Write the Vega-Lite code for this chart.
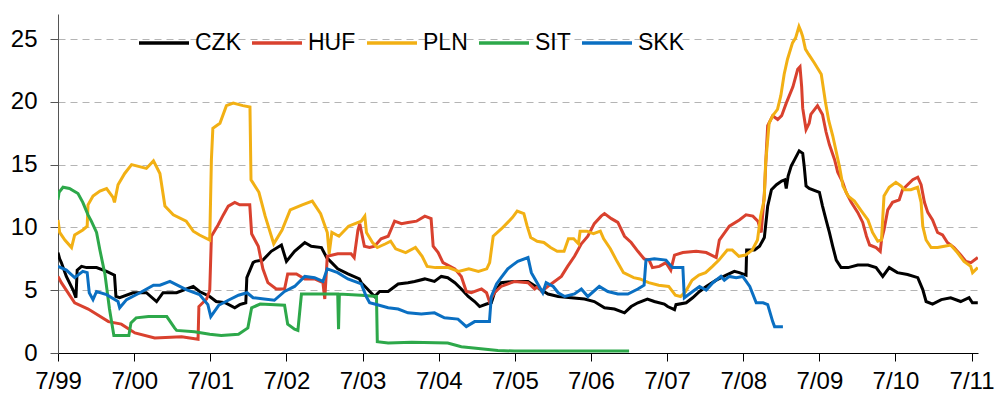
{
"$schema": "https://vega.github.io/schema/vega-lite/v6.json",
"width": 920, "height": 339,
"autosize": {"type": "none"},
"padding": {"left": 58, "top": 14, "right": 21, "bottom": 48},
"background": "white",
"config": {"view": {"stroke": null}, "font": "Liberation Sans"},
"data": {"values": [
{"c":"CZK","d":"1999-07-01","v":8.0},{"c":"CZK","d":"1999-07-09","v":7.5},{"c":"CZK","d":"1999-07-17","v":7.2},{"c":"CZK","d":"1999-08-10","v":6.1},{"c":"CZK","d":"1999-09-12","v":5.0},{"c":"CZK","d":"1999-09-25","v":4.4},{"c":"CZK","d":"1999-10-01","v":6.6},{"c":"CZK","d":"1999-10-22","v":6.9},{"c":"CZK","d":"1999-11-15","v":6.8},{"c":"CZK","d":"2000-01-02","v":6.8},{"c":"CZK","d":"2000-02-19","v":6.5},{"c":"CZK","d":"2000-03-28","v":6.2},{"c":"CZK","d":"2000-04-04","v":4.5},{"c":"CZK","d":"2000-04-22","v":4.4},{"c":"CZK","d":"2000-06-25","v":4.8},{"c":"CZK","d":"2000-08-28","v":4.8},{"c":"CZK","d":"2000-10-16","v":4.1},{"c":"CZK","d":"2000-11-16","v":4.8},{"c":"CZK","d":"2001-01-20","v":4.8},{"c":"CZK","d":"2001-04-10","v":5.3},{"c":"CZK","d":"2001-05-10","v":4.9},{"c":"CZK","d":"2001-06-28","v":4.5},{"c":"CZK","d":"2001-07-29","v":4.1},{"c":"CZK","d":"2001-09-10","v":4.0},{"c":"CZK","d":"2001-10-26","v":3.6},{"c":"CZK","d":"2001-11-19","v":3.85},{"c":"CZK","d":"2001-12-18","v":4.0},{"c":"CZK","d":"2001-12-23","v":6.0},{"c":"CZK","d":"2002-01-22","v":7.2},{"c":"CZK","d":"2002-02-01","v":7.3},{"c":"CZK","d":"2002-03-10","v":7.4},{"c":"CZK","d":"2002-04-19","v":8.1},{"c":"CZK","d":"2002-06-07","v":8.6},{"c":"CZK","d":"2002-07-01","v":7.3},{"c":"CZK","d":"2002-08-09","v":8.1},{"c":"CZK","d":"2002-09-27","v":8.8},{"c":"CZK","d":"2002-10-28","v":8.5},{"c":"CZK","d":"2002-12-16","v":8.4},{"c":"CZK","d":"2003-01-10","v":7.6},{"c":"CZK","d":"2003-02-03","v":7.2},{"c":"CZK","d":"2003-03-04","v":6.7},{"c":"CZK","d":"2003-04-22","v":6.3},{"c":"CZK","d":"2003-06-16","v":5.9},{"c":"CZK","d":"2003-06-25","v":5.6},{"c":"CZK","d":"2003-07-19","v":5.2},{"c":"CZK","d":"2003-08-28","v":4.5},{"c":"CZK","d":"2003-09-21","v":4.9},{"c":"CZK","d":"2003-11-01","v":4.9},{"c":"CZK","d":"2003-12-19","v":5.5},{"c":"CZK","d":"2004-02-04","v":5.6},{"c":"CZK","d":"2004-03-07","v":5.7},{"c":"CZK","d":"2004-04-25","v":5.9},{"c":"CZK","d":"2004-06-10","v":5.7},{"c":"CZK","d":"2004-07-13","v":6.1},{"c":"CZK","d":"2004-08-13","v":6.0},{"c":"CZK","d":"2004-09-16","v":5.6},{"c":"CZK","d":"2004-10-17","v":5.1},{"c":"CZK","d":"2004-11-19","v":4.5},{"c":"CZK","d":"2004-12-20","v":4.1},{"c":"CZK","d":"2005-01-13","v":3.7},{"c":"CZK","d":"2005-02-15","v":3.9},{"c":"CZK","d":"2005-03-10","v":4.0},{"c":"CZK","d":"2005-03-25","v":4.8},{"c":"CZK","d":"2005-04-26","v":5.6},{"c":"CZK","d":"2005-06-29","v":5.7},{"c":"CZK","d":"2005-09-02","v":5.7},{"c":"CZK","d":"2005-10-19","v":5.2},{"c":"CZK","d":"2005-12-07","v":4.7},{"c":"CZK","d":"2006-01-25","v":4.5},{"c":"CZK","d":"2006-03-28","v":4.4},{"c":"CZK","d":"2006-05-31","v":4.3},{"c":"CZK","d":"2006-07-17","v":4.1},{"c":"CZK","d":"2006-09-04","v":3.6},{"c":"CZK","d":"2006-10-22","v":3.5},{"c":"CZK","d":"2006-12-09","v":3.2},{"c":"CZK","d":"2007-01-10","v":3.7},{"c":"CZK","d":"2007-02-11","v":4.0},{"c":"CZK","d":"2007-03-29","v":4.3},{"c":"CZK","d":"2007-05-01","v":4.1},{"c":"CZK","d":"2007-06-18","v":3.9},{"c":"CZK","d":"2007-07-04","v":3.7},{"c":"CZK","d":"2007-08-06","v":3.45},{"c":"CZK","d":"2007-08-13","v":3.85},{"c":"CZK","d":"2007-10-01","v":4.0},{"c":"CZK","d":"2007-11-01","v":4.4},{"c":"CZK","d":"2007-12-04","v":4.9},{"c":"CZK","d":"2008-01-05","v":5.3},{"c":"CZK","d":"2008-02-22","v":5.8},{"c":"CZK","d":"2008-04-10","v":6.2},{"c":"CZK","d":"2008-05-19","v":6.5},{"c":"CZK","d":"2008-06-12","v":6.4},{"c":"CZK","d":"2008-07-14","v":6.2},{"c":"CZK","d":"2008-07-17","v":8.2},{"c":"CZK","d":"2008-08-24","v":8.2},{"c":"CZK","d":"2008-09-17","v":8.5},{"c":"CZK","d":"2008-10-10","v":9.2},{"c":"CZK","d":"2008-10-26","v":11.7},{"c":"CZK","d":"2008-11-13","v":13.0},{"c":"CZK","d":"2008-12-07","v":13.4},{"c":"CZK","d":"2009-01-01","v":13.7},{"c":"CZK","d":"2009-01-16","v":13.8},{"c":"CZK","d":"2009-01-23","v":13.1},{"c":"CZK","d":"2009-02-01","v":14.1},{"c":"CZK","d":"2009-02-16","v":14.9},{"c":"CZK","d":"2009-03-04","v":15.4},{"c":"CZK","d":"2009-03-26","v":16.1},{"c":"CZK","d":"2009-04-12","v":15.9},{"c":"CZK","d":"2009-04-19","v":14.9},{"c":"CZK","d":"2009-04-28","v":13.3},{"c":"CZK","d":"2009-05-13","v":13.1},{"c":"CZK","d":"2009-07-01","v":12.8},{"c":"CZK","d":"2009-07-16","v":11.7},{"c":"CZK","d":"2009-08-02","v":10.6},{"c":"CZK","d":"2009-08-18","v":9.6},{"c":"CZK","d":"2009-09-03","v":8.5},{"c":"CZK","d":"2009-09-20","v":7.4},{"c":"CZK","d":"2009-10-13","v":6.8},{"c":"CZK","d":"2009-11-16","v":6.8},{"c":"CZK","d":"2010-01-01","v":7.0},{"c":"CZK","d":"2010-02-19","v":7.0},{"c":"CZK","d":"2010-03-30","v":6.8},{"c":"CZK","d":"2010-05-01","v":6.1},{"c":"CZK","d":"2010-06-01","v":6.8},{"c":"CZK","d":"2010-07-10","v":6.4},{"c":"CZK","d":"2010-08-28","v":6.25},{"c":"CZK","d":"2010-10-16","v":6.0},{"c":"CZK","d":"2010-11-09","v":5.05},{"c":"CZK","d":"2010-11-25","v":4.1},{"c":"CZK","d":"2010-12-26","v":3.9},{"c":"CZK","d":"2011-02-06","v":4.25},{"c":"CZK","d":"2011-03-23","v":4.4},{"c":"CZK","d":"2011-05-10","v":4.1},{"c":"CZK","d":"2011-06-19","v":4.4},{"c":"CZK","d":"2011-07-05","v":4.0},{"c":"CZK","d":"2011-07-31","v":4.0},
{"c":"HUF","d":"1999-07-01","v":6.1},{"c":"HUF","d":"1999-07-17","v":5.6},{"c":"HUF","d":"1999-09-19","v":4.0},{"c":"HUF","d":"1999-11-23","v":3.5},{"c":"HUF","d":"2000-02-28","v":2.5},{"c":"HUF","d":"2000-04-30","v":2.3},{"c":"HUF","d":"2000-07-04","v":1.6},{"c":"HUF","d":"2000-10-07","v":1.2},{"c":"HUF","d":"2001-02-13","v":1.3},{"c":"HUF","d":"2001-05-03","v":1.1},{"c":"HUF","d":"2001-05-07","v":3.7},{"c":"HUF","d":"2001-06-13","v":4.3},{"c":"HUF","d":"2001-06-28","v":5.0},{"c":"HUF","d":"2001-07-06","v":9.3},{"c":"HUF","d":"2001-08-07","v":10.2},{"c":"HUF","d":"2001-09-01","v":11.0},{"c":"HUF","d":"2001-09-25","v":11.7},{"c":"HUF","d":"2001-10-26","v":12.0},{"c":"HUF","d":"2001-11-19","v":11.8},{"c":"HUF","d":"2002-01-06","v":11.8},{"c":"HUF","d":"2002-01-15","v":9.5},{"c":"HUF","d":"2002-02-16","v":8.5},{"c":"HUF","d":"2002-03-10","v":6.7},{"c":"HUF","d":"2002-04-03","v":5.6},{"c":"HUF","d":"2002-05-13","v":5.1},{"c":"HUF","d":"2002-06-22","v":5.1},{"c":"HUF","d":"2002-07-07","v":6.3},{"c":"HUF","d":"2002-08-18","v":6.3},{"c":"HUF","d":"2002-09-27","v":5.9},{"c":"HUF","d":"2002-11-13","v":5.9},{"c":"HUF","d":"2002-12-23","v":5.6},{"c":"HUF","d":"2003-01-01","v":4.3},{"c":"HUF","d":"2003-01-13","v":7.7},{"c":"HUF","d":"2003-03-04","v":7.9},{"c":"HUF","d":"2003-05-07","v":7.9},{"c":"HUF","d":"2003-05-22","v":7.6},{"c":"HUF","d":"2003-06-09","v":9.8},{"c":"HUF","d":"2003-06-18","v":10.3},{"c":"HUF","d":"2003-07-10","v":8.5},{"c":"HUF","d":"2003-08-04","v":8.4},{"c":"HUF","d":"2003-08-28","v":8.5},{"c":"HUF","d":"2003-09-28","v":9.1},{"c":"HUF","d":"2003-11-01","v":9.3},{"c":"HUF","d":"2003-12-02","v":10.5},{"c":"HUF","d":"2004-01-04","v":10.3},{"c":"HUF","d":"2004-02-04","v":10.4},{"c":"HUF","d":"2004-03-16","v":10.5},{"c":"HUF","d":"2004-04-25","v":10.9},{"c":"HUF","d":"2004-05-25","v":10.7},{"c":"HUF","d":"2004-06-04","v":8.5},{"c":"HUF","d":"2004-06-28","v":8.0},{"c":"HUF","d":"2004-07-21","v":7.2},{"c":"HUF","d":"2004-09-16","v":6.7},{"c":"HUF","d":"2004-10-17","v":6.1},{"c":"HUF","d":"2004-11-10","v":4.9},{"c":"HUF","d":"2004-12-04","v":4.8},{"c":"HUF","d":"2005-01-22","v":5.1},{"c":"HUF","d":"2005-02-15","v":4.8},{"c":"HUF","d":"2005-03-01","v":4.1},{"c":"HUF","d":"2005-03-25","v":4.8},{"c":"HUF","d":"2005-04-26","v":5.3},{"c":"HUF","d":"2005-06-29","v":5.7},{"c":"HUF","d":"2005-09-02","v":5.6},{"c":"HUF","d":"2005-10-04","v":5.1},{"c":"HUF","d":"2005-10-19","v":5.3},{"c":"HUF","d":"2005-11-06","v":4.9},{"c":"HUF","d":"2005-12-22","v":5.5},{"c":"HUF","d":"2006-02-09","v":6.1},{"c":"HUF","d":"2006-03-11","v":6.9},{"c":"HUF","d":"2006-04-13","v":7.7},{"c":"HUF","d":"2006-05-16","v":8.7},{"c":"HUF","d":"2006-06-16","v":9.3},{"c":"HUF","d":"2006-07-17","v":10.3},{"c":"HUF","d":"2006-08-19","v":10.9},{"c":"HUF","d":"2006-09-04","v":11.1},{"c":"HUF","d":"2006-10-07","v":10.7},{"c":"HUF","d":"2006-11-07","v":10.4},{"c":"HUF","d":"2006-12-09","v":9.3},{"c":"HUF","d":"2007-01-10","v":8.8},{"c":"HUF","d":"2007-02-11","v":8.1},{"c":"HUF","d":"2007-03-13","v":7.5},{"c":"HUF","d":"2007-04-06","v":7.4},{"c":"HUF","d":"2007-04-22","v":6.8},{"c":"HUF","d":"2007-05-25","v":6.9},{"c":"HUF","d":"2007-06-26","v":7.2},{"c":"HUF","d":"2007-07-19","v":6.6},{"c":"HUF","d":"2007-08-06","v":7.8},{"c":"HUF","d":"2007-09-15","v":8.0},{"c":"HUF","d":"2007-11-18","v":8.1},{"c":"HUF","d":"2008-01-05","v":8.0},{"c":"HUF","d":"2008-02-22","v":7.6},{"c":"HUF","d":"2008-03-08","v":9.0},{"c":"HUF","d":"2008-04-25","v":10.1},{"c":"HUF","d":"2008-06-12","v":10.6},{"c":"HUF","d":"2008-07-14","v":11.0},{"c":"HUF","d":"2008-08-16","v":10.9},{"c":"HUF","d":"2008-09-09","v":10.5},{"c":"HUF","d":"2008-09-25","v":9.6},{"c":"HUF","d":"2008-10-10","v":12.7},{"c":"HUF","d":"2008-10-19","v":15.9},{"c":"HUF","d":"2008-10-26","v":18.1},{"c":"HUF","d":"2008-11-19","v":18.9},{"c":"HUF","d":"2008-12-13","v":18.6},{"c":"HUF","d":"2009-01-01","v":18.9},{"c":"HUF","d":"2009-01-23","v":19.9},{"c":"HUF","d":"2009-02-24","v":21.2},{"c":"HUF","d":"2009-03-19","v":22.6},{"c":"HUF","d":"2009-03-30","v":22.8},{"c":"HUF","d":"2009-04-07","v":21.2},{"c":"HUF","d":"2009-04-12","v":19.5},{"c":"HUF","d":"2009-04-28","v":17.8},{"c":"HUF","d":"2009-05-13","v":18.3},{"c":"HUF","d":"2009-05-21","v":19.0},{"c":"HUF","d":"2009-06-22","v":19.7},{"c":"HUF","d":"2009-07-16","v":19.0},{"c":"HUF","d":"2009-08-02","v":17.6},{"c":"HUF","d":"2009-08-18","v":16.6},{"c":"HUF","d":"2009-09-12","v":15.4},{"c":"HUF","d":"2009-09-27","v":14.4},{"c":"HUF","d":"2009-10-21","v":13.6},{"c":"HUF","d":"2009-11-06","v":12.8},{"c":"HUF","d":"2009-12-01","v":12.0},{"c":"HUF","d":"2010-01-01","v":11.2},{"c":"HUF","d":"2010-01-25","v":10.4},{"c":"HUF","d":"2010-02-12","v":9.3},{"c":"HUF","d":"2010-02-27","v":8.6},{"c":"HUF","d":"2010-03-30","v":8.4},{"c":"HUF","d":"2010-04-19","v":8.1},{"c":"HUF","d":"2010-04-25","v":9.0},{"c":"HUF","d":"2010-05-07","v":9.8},{"c":"HUF","d":"2010-05-25","v":11.4},{"c":"HUF","d":"2010-06-17","v":12.0},{"c":"HUF","d":"2010-07-19","v":12.2},{"c":"HUF","d":"2010-08-04","v":13.0},{"c":"HUF","d":"2010-08-28","v":13.4},{"c":"HUF","d":"2010-09-22","v":13.8},{"c":"HUF","d":"2010-10-16","v":14.0},{"c":"HUF","d":"2010-11-01","v":13.4},{"c":"HUF","d":"2010-11-17","v":12.0},{"c":"HUF","d":"2010-12-03","v":11.2},{"c":"HUF","d":"2010-12-26","v":10.6},{"c":"HUF","d":"2011-01-19","v":9.6},{"c":"HUF","d":"2011-02-12","v":9.4},{"c":"HUF","d":"2011-03-07","v":8.8},{"c":"HUF","d":"2011-04-08","v":8.4},{"c":"HUF","d":"2011-05-10","v":7.8},{"c":"HUF","d":"2011-06-04","v":7.3},{"c":"HUF","d":"2011-06-28","v":7.2},{"c":"HUF","d":"2011-07-31","v":7.6},
{"c":"PLN","d":"1999-07-01","v":10.6},{"c":"PLN","d":"1999-07-09","v":9.6},{"c":"PLN","d":"1999-08-03","v":9.0},{"c":"PLN","d":"1999-09-04","v":8.4},{"c":"PLN","d":"1999-09-19","v":9.4},{"c":"PLN","d":"1999-10-28","v":9.8},{"c":"PLN","d":"1999-11-18","v":10.1},{"c":"PLN","d":"1999-11-22","v":11.8},{"c":"PLN","d":"1999-12-16","v":12.5},{"c":"PLN","d":"2000-01-18","v":12.9},{"c":"PLN","d":"2000-02-19","v":13.1},{"c":"PLN","d":"2000-03-21","v":12.4},{"c":"PLN","d":"2000-03-28","v":12.0},{"c":"PLN","d":"2000-04-14","v":13.4},{"c":"PLN","d":"2000-05-16","v":14.3},{"c":"PLN","d":"2000-06-18","v":15.0},{"c":"PLN","d":"2000-08-28","v":14.7},{"c":"PLN","d":"2000-10-01","v":15.3},{"c":"PLN","d":"2000-11-01","v":14.3},{"c":"PLN","d":"2000-11-25","v":11.7},{"c":"PLN","d":"2001-01-04","v":11.0},{"c":"PLN","d":"2001-03-07","v":10.5},{"c":"PLN","d":"2001-04-10","v":9.7},{"c":"PLN","d":"2001-05-10","v":9.4},{"c":"PLN","d":"2001-06-28","v":9.0},{"c":"PLN","d":"2001-07-06","v":15.4},{"c":"PLN","d":"2001-07-13","v":17.9},{"c":"PLN","d":"2001-08-16","v":18.3},{"c":"PLN","d":"2001-09-16","v":19.7},{"c":"PLN","d":"2001-10-19","v":19.9},{"c":"PLN","d":"2001-12-04","v":19.7},{"c":"PLN","d":"2002-01-07","v":19.6},{"c":"PLN","d":"2002-01-12","v":13.8},{"c":"PLN","d":"2002-02-19","v":12.8},{"c":"PLN","d":"2002-03-21","v":10.9},{"c":"PLN","d":"2002-05-01","v":8.7},{"c":"PLN","d":"2002-06-10","v":9.8},{"c":"PLN","d":"2002-07-19","v":11.4},{"c":"PLN","d":"2002-09-15","v":11.8},{"c":"PLN","d":"2002-11-02","v":12.1},{"c":"PLN","d":"2002-12-12","v":11.1},{"c":"PLN","d":"2003-01-13","v":9.6},{"c":"PLN","d":"2003-01-22","v":7.9},{"c":"PLN","d":"2003-02-04","v":9.6},{"c":"PLN","d":"2003-03-10","v":9.3},{"c":"PLN","d":"2003-04-25","v":10.1},{"c":"PLN","d":"2003-06-25","v":10.5},{"c":"PLN","d":"2003-07-12","v":10.9},{"c":"PLN","d":"2003-07-20","v":9.6},{"c":"PLN","d":"2003-08-18","v":8.8},{"c":"PLN","d":"2003-09-10","v":8.4},{"c":"PLN","d":"2003-10-20","v":8.7},{"c":"PLN","d":"2003-11-13","v":8.9},{"c":"PLN","d":"2003-12-07","v":8.3},{"c":"PLN","d":"2004-01-24","v":8.0},{"c":"PLN","d":"2004-03-11","v":8.4},{"c":"PLN","d":"2004-04-12","v":7.7},{"c":"PLN","d":"2004-05-06","v":6.9},{"c":"PLN","d":"2004-06-15","v":6.8},{"c":"PLN","d":"2004-08-16","v":6.8},{"c":"PLN","d":"2004-10-04","v":6.5},{"c":"PLN","d":"2004-11-22","v":6.7},{"c":"PLN","d":"2005-01-07","v":6.5},{"c":"PLN","d":"2005-02-16","v":6.7},{"c":"PLN","d":"2005-03-02","v":7.2},{"c":"PLN","d":"2005-03-19","v":9.3},{"c":"PLN","d":"2005-04-28","v":9.9},{"c":"PLN","d":"2005-05-28","v":10.4},{"c":"PLN","d":"2005-06-20","v":10.8},{"c":"PLN","d":"2005-07-12","v":11.3},{"c":"PLN","d":"2005-08-13","v":11.1},{"c":"PLN","d":"2005-08-29","v":10.1},{"c":"PLN","d":"2005-09-15","v":9.2},{"c":"PLN","d":"2005-10-16","v":8.9},{"c":"PLN","d":"2005-11-17","v":8.8},{"c":"PLN","d":"2005-12-19","v":8.4},{"c":"PLN","d":"2006-01-20","v":8.1},{"c":"PLN","d":"2006-02-22","v":8.1},{"c":"PLN","d":"2006-03-15","v":9.1},{"c":"PLN","d":"2006-04-09","v":9.1},{"c":"PLN","d":"2006-05-02","v":8.7},{"c":"PLN","d":"2006-05-10","v":9.7},{"c":"PLN","d":"2006-06-12","v":9.7},{"c":"PLN","d":"2006-07-13","v":9.5},{"c":"PLN","d":"2006-08-15","v":9.7},{"c":"PLN","d":"2006-08-31","v":9.1},{"c":"PLN","d":"2006-10-02","v":8.3},{"c":"PLN","d":"2006-11-03","v":7.3},{"c":"PLN","d":"2006-12-04","v":6.4},{"c":"PLN","d":"2007-01-22","v":6.0},{"c":"PLN","d":"2007-02-21","v":5.9},{"c":"PLN","d":"2007-04-04","v":5.6},{"c":"PLN","d":"2007-05-22","v":5.4},{"c":"PLN","d":"2007-07-09","v":5.3},{"c":"PLN","d":"2007-08-10","v":4.6},{"c":"PLN","d":"2007-09-04","v":4.5},{"c":"PLN","d":"2007-09-28","v":4.9},{"c":"PLN","d":"2007-10-29","v":5.8},{"c":"PLN","d":"2007-12-01","v":6.2},{"c":"PLN","d":"2008-01-02","v":6.4},{"c":"PLN","d":"2008-02-04","v":6.9},{"c":"PLN","d":"2008-03-06","v":7.4},{"c":"PLN","d":"2008-04-15","v":8.2},{"c":"PLN","d":"2008-05-09","v":8.2},{"c":"PLN","d":"2008-06-10","v":7.7},{"c":"PLN","d":"2008-07-12","v":7.8},{"c":"PLN","d":"2008-08-13","v":8.2},{"c":"PLN","d":"2008-09-07","v":9.0},{"c":"PLN","d":"2008-09-22","v":10.9},{"c":"PLN","d":"2008-10-09","v":12.2},{"c":"PLN","d":"2008-10-16","v":15.1},{"c":"PLN","d":"2008-11-02","v":18.3},{"c":"PLN","d":"2008-11-19","v":18.9},{"c":"PLN","d":"2008-12-12","v":19.4},{"c":"PLN","d":"2008-12-28","v":20.5},{"c":"PLN","d":"2009-01-13","v":22.2},{"c":"PLN","d":"2009-01-29","v":23.4},{"c":"PLN","d":"2009-02-22","v":24.7},{"c":"PLN","d":"2009-03-09","v":25.1},{"c":"PLN","d":"2009-03-25","v":26.0},{"c":"PLN","d":"2009-04-04","v":25.6},{"c":"PLN","d":"2009-04-12","v":25.2},{"c":"PLN","d":"2009-04-25","v":24.2},{"c":"PLN","d":"2009-05-10","v":23.8},{"c":"PLN","d":"2009-06-07","v":23.1},{"c":"PLN","d":"2009-07-10","v":22.2},{"c":"PLN","d":"2009-07-30","v":20.0},{"c":"PLN","d":"2009-08-15","v":18.5},{"c":"PLN","d":"2009-09-03","v":17.3},{"c":"PLN","d":"2009-10-06","v":14.8},{"c":"PLN","d":"2009-10-22","v":13.3},{"c":"PLN","d":"2009-11-16","v":12.5},{"c":"PLN","d":"2009-12-16","v":12.1},{"c":"PLN","d":"2010-01-19","v":11.3},{"c":"PLN","d":"2010-02-19","v":10.6},{"c":"PLN","d":"2010-03-13","v":9.6},{"c":"PLN","d":"2010-04-07","v":8.9},{"c":"PLN","d":"2010-04-25","v":9.0},{"c":"PLN","d":"2010-05-07","v":12.5},{"c":"PLN","d":"2010-06-01","v":13.2},{"c":"PLN","d":"2010-07-03","v":13.6},{"c":"PLN","d":"2010-07-28","v":13.3},{"c":"PLN","d":"2010-08-13","v":13.0},{"c":"PLN","d":"2010-09-13","v":13.0},{"c":"PLN","d":"2010-10-15","v":13.2},{"c":"PLN","d":"2010-11-01","v":12.0},{"c":"PLN","d":"2010-11-09","v":10.1},{"c":"PLN","d":"2010-11-25","v":9.0},{"c":"PLN","d":"2010-12-19","v":8.4},{"c":"PLN","d":"2011-01-19","v":8.4},{"c":"PLN","d":"2011-02-21","v":8.5},{"c":"PLN","d":"2011-03-23","v":8.6},{"c":"PLN","d":"2011-04-24","v":8.0},{"c":"PLN","d":"2011-05-26","v":7.3},{"c":"PLN","d":"2011-06-27","v":6.9},{"c":"PLN","d":"2011-07-06","v":6.4},{"c":"PLN","d":"2011-07-31","v":6.8},
{"c":"SIT","d":"1999-07-01","v":12.2},{"c":"SIT","d":"1999-07-06","v":12.8},{"c":"SIT","d":"1999-07-25","v":13.2},{"c":"SIT","d":"1999-08-25","v":13.1},{"c":"SIT","d":"1999-10-05","v":12.7},{"c":"SIT","d":"1999-10-28","v":12.0},{"c":"SIT","d":"1999-11-22","v":11.0},{"c":"SIT","d":"1999-12-08","v":10.5},{"c":"SIT","d":"2000-01-02","v":9.6},{"c":"SIT","d":"2000-01-18","v":8.2},{"c":"SIT","d":"2000-02-11","v":6.3},{"c":"SIT","d":"2000-03-04","v":3.5},{"c":"SIT","d":"2000-03-25","v":1.4},{"c":"SIT","d":"2000-06-05","v":1.4},{"c":"SIT","d":"2000-06-15","v":2.4},{"c":"SIT","d":"2000-07-10","v":2.8},{"c":"SIT","d":"2000-09-07","v":2.9},{"c":"SIT","d":"2000-12-04","v":2.9},{"c":"SIT","d":"2001-01-10","v":2.0},{"c":"SIT","d":"2001-01-20","v":1.8},{"c":"SIT","d":"2001-04-16","v":1.7},{"c":"SIT","d":"2001-06-28","v":1.5},{"c":"SIT","d":"2001-08-22","v":1.4},{"c":"SIT","d":"2001-11-13","v":1.5},{"c":"SIT","d":"2001-12-28","v":2.0},{"c":"SIT","d":"2002-01-15","v":3.6},{"c":"SIT","d":"2002-02-25","v":3.9},{"c":"SIT","d":"2002-06-22","v":3.8},{"c":"SIT","d":"2002-07-07","v":2.3},{"c":"SIT","d":"2002-08-09","v":1.9},{"c":"SIT","d":"2002-08-25","v":1.8},{"c":"SIT","d":"2002-09-11","v":4.7},{"c":"SIT","d":"2003-03-04","v":4.7},{"c":"SIT","d":"2003-03-08","v":1.9},{"c":"SIT","d":"2003-03-12","v":4.7},{"c":"SIT","d":"2003-06-25","v":4.6},{"c":"SIT","d":"2003-09-06","v":4.5},{"c":"SIT","d":"2003-09-10","v":0.9},{"c":"SIT","d":"2003-11-01","v":0.8},{"c":"SIT","d":"2004-02-22","v":0.85},{"c":"SIT","d":"2004-08-13","v":0.8},{"c":"SIT","d":"2004-10-17","v":0.5},{"c":"SIT","d":"2005-01-07","v":0.35},{"c":"SIT","d":"2005-04-10","v":0.2},{"c":"SIT","d":"2005-06-29","v":0.15},{"c":"SIT","d":"2006-06-30","v":0.15},{"c":"SIT","d":"2006-12-31","v":0.15},
{"c":"SKK","d":"1999-07-01","v":6.9},{"c":"SKK","d":"1999-08-10","v":6.6},{"c":"SKK","d":"1999-09-19","v":6.0},{"c":"SKK","d":"1999-10-28","v":6.5},{"c":"SKK","d":"1999-11-18","v":6.4},{"c":"SKK","d":"1999-11-28","v":4.8},{"c":"SKK","d":"1999-12-16","v":4.25},{"c":"SKK","d":"2000-01-02","v":4.9},{"c":"SKK","d":"2000-02-19","v":4.65},{"c":"SKK","d":"2000-04-14","v":4.1},{"c":"SKK","d":"2000-04-22","v":3.6},{"c":"SKK","d":"2000-05-25","v":4.25},{"c":"SKK","d":"2000-07-28","v":4.8},{"c":"SKK","d":"2000-10-01","v":5.4},{"c":"SKK","d":"2000-11-01","v":5.4},{"c":"SKK","d":"2000-12-19","v":5.7},{"c":"SKK","d":"2001-03-07","v":5.05},{"c":"SKK","d":"2001-05-10","v":4.65},{"c":"SKK","d":"2001-06-19","v":3.85},{"c":"SKK","d":"2001-07-03","v":2.9},{"c":"SKK","d":"2001-08-10","v":3.8},{"c":"SKK","d":"2001-09-25","v":4.2},{"c":"SKK","d":"2001-11-13","v":4.6},{"c":"SKK","d":"2001-12-24","v":4.8},{"c":"SKK","d":"2002-01-22","v":4.4},{"c":"SKK","d":"2002-03-16","v":4.3},{"c":"SKK","d":"2002-05-04","v":4.2},{"c":"SKK","d":"2002-06-22","v":4.9},{"c":"SKK","d":"2002-08-09","v":5.3},{"c":"SKK","d":"2002-09-27","v":6.1},{"c":"SKK","d":"2002-11-13","v":6.0},{"c":"SKK","d":"2002-12-23","v":5.7},{"c":"SKK","d":"2003-01-13","v":6.7},{"c":"SKK","d":"2003-03-04","v":6.4},{"c":"SKK","d":"2003-04-22","v":5.9},{"c":"SKK","d":"2003-06-09","v":5.6},{"c":"SKK","d":"2003-06-25","v":5.5},{"c":"SKK","d":"2003-07-19","v":4.5},{"c":"SKK","d":"2003-08-04","v":4.0},{"c":"SKK","d":"2003-08-28","v":3.9},{"c":"SKK","d":"2003-11-01","v":3.6},{"c":"SKK","d":"2003-12-19","v":3.5},{"c":"SKK","d":"2004-02-04","v":3.2},{"c":"SKK","d":"2004-04-08","v":3.1},{"c":"SKK","d":"2004-06-10","v":3.2},{"c":"SKK","d":"2004-07-28","v":2.8},{"c":"SKK","d":"2004-10-01","v":2.7},{"c":"SKK","d":"2004-11-10","v":2.1},{"c":"SKK","d":"2004-12-20","v":2.5},{"c":"SKK","d":"2005-03-01","v":2.5},{"c":"SKK","d":"2005-03-10","v":4.5},{"c":"SKK","d":"2005-04-04","v":5.5},{"c":"SKK","d":"2005-04-26","v":6.0},{"c":"SKK","d":"2005-05-28","v":6.7},{"c":"SKK","d":"2005-06-20","v":7.0},{"c":"SKK","d":"2005-07-15","v":7.3},{"c":"SKK","d":"2005-09-02","v":7.6},{"c":"SKK","d":"2005-09-18","v":6.4},{"c":"SKK","d":"2005-10-19","v":5.5},{"c":"SKK","d":"2005-11-12","v":4.8},{"c":"SKK","d":"2005-11-28","v":5.6},{"c":"SKK","d":"2006-01-01","v":5.3},{"c":"SKK","d":"2006-01-25","v":4.8},{"c":"SKK","d":"2006-02-25","v":4.5},{"c":"SKK","d":"2006-04-13","v":4.7},{"c":"SKK","d":"2006-05-16","v":5.1},{"c":"SKK","d":"2006-06-16","v":4.5},{"c":"SKK","d":"2006-08-10","v":5.3},{"c":"SKK","d":"2006-09-20","v":4.9},{"c":"SKK","d":"2006-11-07","v":4.7},{"c":"SKK","d":"2006-12-25","v":4.7},{"c":"SKK","d":"2007-02-11","v":5.1},{"c":"SKK","d":"2007-03-13","v":5.4},{"c":"SKK","d":"2007-03-22","v":7.4},{"c":"SKK","d":"2007-05-01","v":7.5},{"c":"SKK","d":"2007-06-26","v":7.4},{"c":"SKK","d":"2007-07-27","v":6.8},{"c":"SKK","d":"2007-09-15","v":6.8},{"c":"SKK","d":"2007-09-22","v":4.4},{"c":"SKK","d":"2007-11-01","v":4.9},{"c":"SKK","d":"2007-12-04","v":5.3},{"c":"SKK","d":"2008-01-05","v":5.0},{"c":"SKK","d":"2008-02-06","v":5.6},{"c":"SKK","d":"2008-03-16","v":6.1},{"c":"SKK","d":"2008-04-01","v":5.8},{"c":"SKK","d":"2008-04-25","v":6.1},{"c":"SKK","d":"2008-05-28","v":6.0},{"c":"SKK","d":"2008-06-28","v":6.1},{"c":"SKK","d":"2008-08-01","v":5.3},{"c":"SKK","d":"2008-09-01","v":4.0},{"c":"SKK","d":"2008-10-04","v":4.0},{"c":"SKK","d":"2008-10-26","v":3.85},{"c":"SKK","d":"2008-11-19","v":2.5},{"c":"SKK","d":"2008-11-28","v":2.1},{"c":"SKK","d":"2009-01-07","v":2.1}
]},
"mark": {"type": "line", "strokeWidth": 3, "clip": true},
"encoding": {
"x": {"field": "d", "type": "temporal",
 "scale": {"domain": [{"year":1999,"month":7,"date":1},{"year":2011,"month":8,"date":1}]},
 "axis": {"title": null, "grid": false, "format": "%-m/%y", "labelFlush": false, "labelOverlap": false, "labelBound": false,
  "values": [{"year":1999,"month":7,"date":1},{"year":2000,"month":7,"date":1},{"year":2001,"month":7,"date":1},{"year":2002,"month":7,"date":1},{"year":2003,"month":7,"date":1},{"year":2004,"month":7,"date":1},{"year":2005,"month":7,"date":1},{"year":2006,"month":7,"date":1},{"year":2007,"month":7,"date":1},{"year":2008,"month":7,"date":1},{"year":2009,"month":7,"date":1},{"year":2010,"month":7,"date":1},{"year":2011,"month":7,"date":1}],
  "tickSize": 8, "tickColor": "#000", "domainColor": "#000", "labelFontSize": 24, "labelColor": "#000", "labelPadding": 8}},
"y": {"field": "v", "type": "quantitative",
 "scale": {"domain": [0, 27], "nice": false, "zero": true},
 "axis": {"title": null, "values": [0,5,10,15,20,25], "grid": true, "gridDash": [7,5],
  "gridColor": {"condition": {"test": "datum.value === 0", "value": "transparent"}, "value": "#b4b4b4"},
  "tickSize": 8, "tickColor": "#555", "domainColor": "#555", "labelFontSize": 24, "labelColor": "#000", "labelPadding": 13}},
"color": {"field": "c", "type": "nominal",
 "scale": {"domain": ["CZK","HUF","PLN","SIT","SKK"], "range": ["#000000","#D9412E","#F2B014","#2DA84A","#0A6FC2"]},
 "legend": {"title": null, "orient": "none", "legendX": 79, "legendY": 2, "direction": "horizontal", "symbolType": "stroke", "symbolSize": 2500, "symbolStrokeWidth": 3.5, "labelFontSize": 23, "labelColor": "#000", "labelOffset": 4, "columnPadding": 4, "padding": 0}}
}
}
